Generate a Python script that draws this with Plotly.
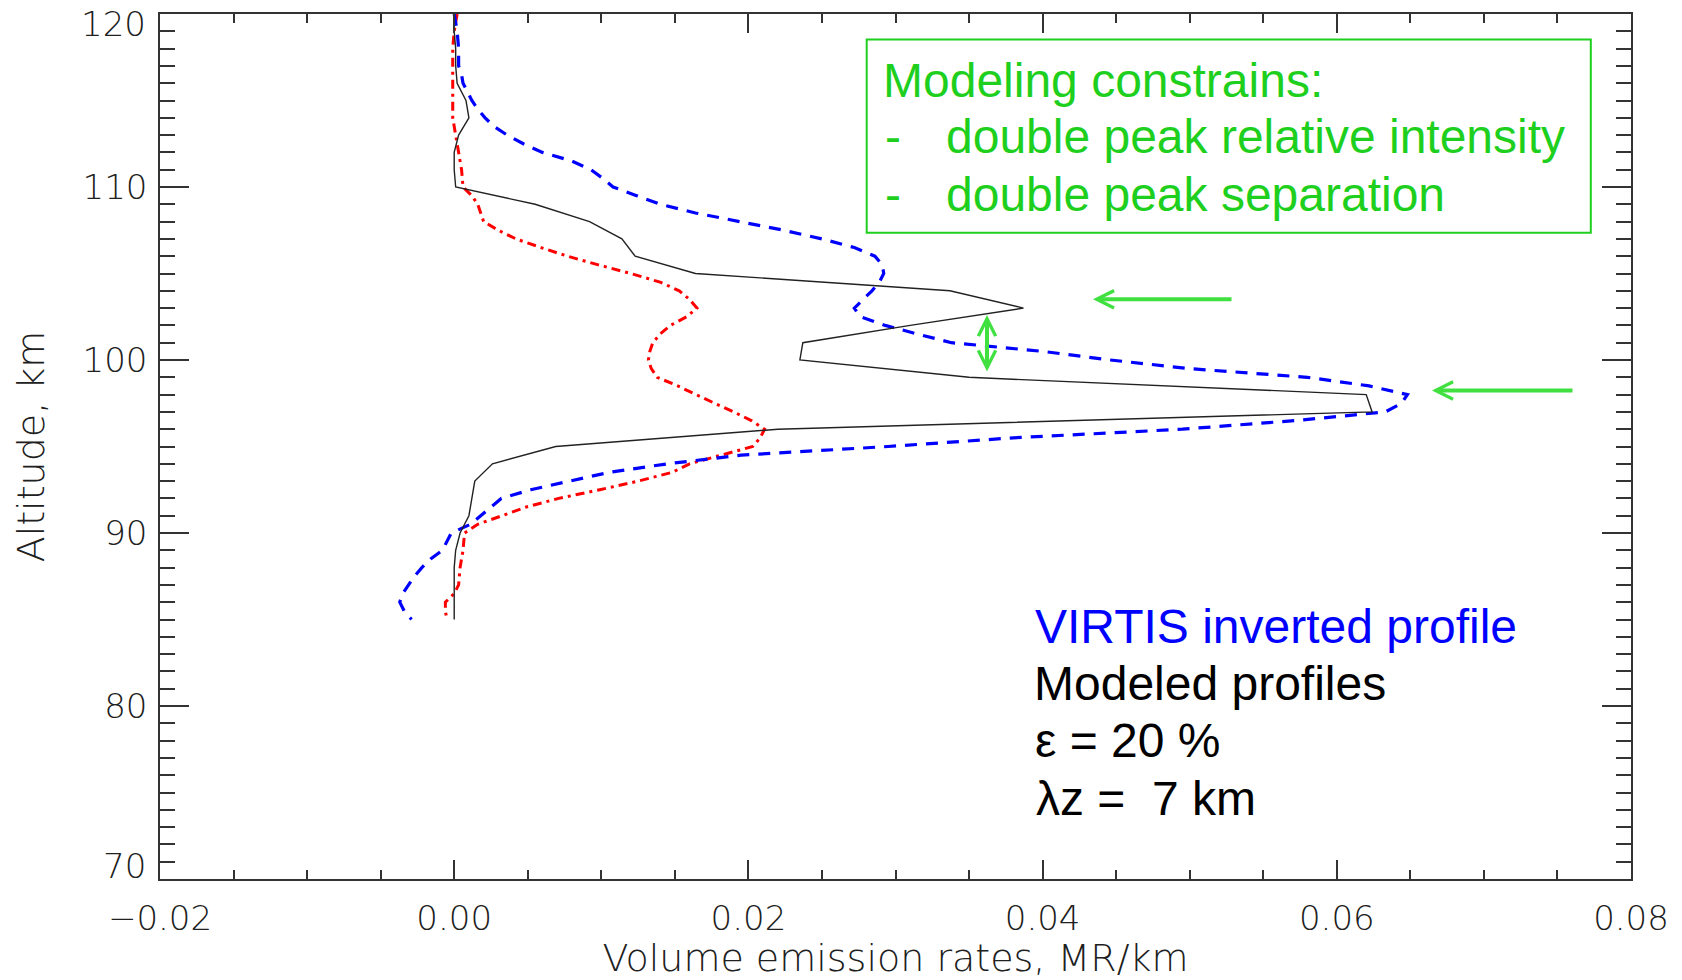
import plotly.graph_objects as go

# ---- Modeled O2 airglow profile (black) ----
model_alt = [120, 119, 118, 117, 116, 115, 114, 113, 112, 111, 110, 109, 108, 107,
             106, 105, 104, 103, 102, 101, 100, 99, 98, 97, 96, 95, 94, 93, 92, 91,
             90, 89, 88, 87, 86, 85]
model_ver = [0.0000, 0.0000, 0.0001, 0.0001, 0.0002, 0.0008, 0.0010, 0.0003, 0.0000,
             0.0000, 0.0001, 0.0055, 0.0092, 0.0114, 0.0123, 0.0164, 0.0337, 0.0387,
             0.0310, 0.0237, 0.0235, 0.0350, 0.0620, 0.0624, 0.0220, 0.0069, 0.0026,
             0.0014, 0.0012, 0.0010, 0.0004, 0.0001, 0.0000, 0.0000, 0.0000, 0.0000]

# ---- VIRTIS inverted profile (blue dashed) ----
virtis_alt = [120.0, 119.0, 118.0, 117.0, 116.5, 116.0, 115.5, 115.0, 114.5, 114.0,
              113.5, 113.0, 112.5, 112.0, 111.5, 111.0, 110.5, 110.0, 109.5, 109.0,
              108.5, 108.0, 107.5, 107.0, 106.5, 106.0, 105.5, 105.0, 104.5, 104.0,
              103.5, 103.0, 102.5, 102.0, 101.5, 101.0, 100.5, 100.0, 99.5, 99.0,
              98.5, 98.0, 97.5, 97.0, 96.5, 96.0, 95.5, 95.0, 94.5, 94.0,
              93.5, 93.0, 92.5, 92.0, 91.5, 91.0, 90.5, 90.0, 89.5, 89.0,
              88.5, 88.0, 87.5, 87.0, 86.5, 86.0, 85.5, 85.0]
virtis_ver = [0.0000, 0.0002, 0.0003, 0.0003, 0.0005, 0.0006, 0.0009, 0.0012, 0.0016, 0.0021,
              0.0027, 0.0036, 0.0047, 0.0060, 0.0080, 0.0093, 0.0101, 0.0108, 0.0124, 0.0140,
              0.0164, 0.0193, 0.0224, 0.0250, 0.0272, 0.0286, 0.0291, 0.0292, 0.0289, 0.0284,
              0.0278, 0.0272, 0.0276, 0.0293, 0.0315, 0.0338, 0.0400, 0.0446, 0.0500, 0.0580,
              0.0622, 0.0648, 0.0644, 0.0633, 0.0572, 0.0495, 0.0380, 0.0295, 0.0195, 0.0145,
              0.0105, 0.0078, 0.0052, 0.0032, 0.0025, 0.0018, 0.0011, -0.0002, -0.0005, -0.0008,
              -0.0016, -0.0022, -0.0027, -0.0031, -0.0035, -0.0037, -0.0034, -0.0029]

# ---- Second modeled profile (red dash-dot) ----
alt2 = [120.0, 119.0, 118.0, 117.0, 116.0, 115.0, 114.0, 113.0, 112.0, 111.0, 110.0,
        109.5, 109.0, 108.5, 108.0, 107.5, 107.0, 106.5, 106.0, 105.5, 105.0, 104.5,
        104.0, 103.5, 103.0, 102.5, 102.0, 101.5, 101.0, 100.5, 100.0, 99.5, 99.0,
        98.5, 98.0, 97.5, 97.0, 96.5, 96.0, 95.5, 95.0, 94.5, 94.0, 93.5, 93.0,
        92.5, 92.0, 91.5, 91.0, 90.5, 90.0, 89.0, 88.0, 87.0, 86.5, 86.0, 85.5, 85.0]
ver2 = [0.0002, 0.0000, -0.0001, -0.0001, -0.0001, -0.0001, -0.0001, 0.0001, 0.0003, 0.0005, 0.0006,
        0.0012, 0.0016, 0.0018, 0.0020, 0.0030, 0.0042, 0.0059, 0.0077, 0.0098, 0.0120, 0.0140,
        0.0153, 0.0160, 0.0165, 0.0158, 0.0147, 0.0140, 0.0135, 0.0133, 0.0132, 0.0134, 0.0138,
        0.0152, 0.0164, 0.0177, 0.0190, 0.0202, 0.0211, 0.0208, 0.0203, 0.0181, 0.0160, 0.0148, 0.0125,
        0.0099, 0.0071, 0.0049, 0.0033, 0.0016, 0.0007, 0.0006, 0.0004, 0.0003, 0.0000, -0.0006, -0.0006, -0.0005]

x_tickvals = [-0.02, 0.0, 0.02, 0.04, 0.06, 0.08]
x_ticktext = ["\u22120.02", "0.00", "0.02", "0.04", "0.06", "0.08"]
y_tickvals = [70, 80, 90, 100, 110, 120]
y_inner_labels = [80, 90, 100, 110]
y_edge_labels = [70, 120]

W, H = 1682, 980
L, R, T, B = 160, 51, 14, 101
X_RANGE = [-0.02, 0.08]
Y_RANGE = [70, 120]
KM_PER_PX = (Y_RANGE[1] - Y_RANGE[0]) / (H - T - B)


def px2x(px):
    return X_RANGE[0] + (px - L) / (W - L - R) * (X_RANGE[1] - X_RANGE[0])


def py2y(py):
    return Y_RANGE[1] - (py - T) * KM_PER_PX


GREEN_TXT = "#1ecf1e"
GREEN_ARR = "#3fe03f"
AXC = "#333333"
LABC = "#202020"

fig = go.Figure()
fig.add_trace(go.Scatter(x=ver2, y=alt2, mode="lines",
                         line=dict(color="#ff0000", width=3, dash="9px,5px,3px,5px")))
fig.add_trace(go.Scatter(x=virtis_ver, y=virtis_alt, mode="lines",
                         line=dict(color="#0000ff", width=3.2, dash="12px,9px")))
fig.add_trace(go.Scatter(x=model_ver, y=model_alt, mode="lines",
                         line=dict(color="#222222", width=1.4)))

tickfont = dict(family="DejaVu Sans", size=34, color=LABC, weight=200)
titlefont = dict(family="DejaVu Sans", size=38, color=LABC, weight=200)

fig.update_xaxes(range=X_RANGE, tickvals=x_tickvals, ticktext=x_ticktext,
                 ticks="inside", ticklen=19, tickwidth=1.5, tickcolor=AXC,
                 minor=dict(tick0=-0.02, dtick=0.005, ticks="inside", ticklen=9.5,
                            tickwidth=1.5, tickcolor=AXC),
                 showline=True, linecolor=AXC, linewidth=1.5, mirror="allticks",
                 showgrid=False, zeroline=False, tickfont=tickfont,
                 ticklabelstandoff=8,
                 title=dict(text="Volume emission rates, MR/km", font=titlefont, standoff=7))

# Altitude axis: ticks on both sides, labels for the inner decades
fig.update_yaxes(range=Y_RANGE, tickvals=y_tickvals,
                 ticktext=[str(v) if v in y_inner_labels else "" for v in y_tickvals],
                 ticks="inside", ticklen=29, tickwidth=1.5, tickcolor=AXC,
                 minor=dict(tick0=70, dtick=1, ticks="inside", ticklen=15.5,
                            tickwidth=1.5, tickcolor=AXC),
                 showline=True, linecolor=AXC, linewidth=1.5, mirror="allticks",
                 showgrid=False, zeroline=False, tickfont=tickfont,
                 ticklabelstandoff=4,
                 title=dict(text="Altitude, km", font=titlefont, standoff=26))

# Edge labels of the altitude axis, nudged inside the frame
edge_shift = {70: 12.6, 120: -10.0}
for v in y_edge_labels:
    fig.add_annotation(xref="paper", x=-13 / (W - L - R), y=v, yshift=edge_shift[v],
                       text=str(v), showarrow=False, xanchor="right", yanchor="middle",
                       borderpad=0, font=tickfont)

# Constraint box
fig.add_shape(type="rect", x0=px2x(866.7), x1=px2x(1590.8), y0=py2y(232.8), y1=py2y(39.5),
              line=dict(color=GREEN_TXT, width=2))

big = dict(family="Liberation Sans, Arial, sans-serif", size=48)


def label(text, px, baseline, color):
    fig.add_annotation(x=px2x(px), y=py2y(baseline - 16.6), text=text, showarrow=False,
                       xanchor="left", yanchor="middle", borderpad=0, borderwidth=0,
                       font=dict(big, color=color))


label("Modeling constrains:", 883, 96.6, GREEN_TXT)
label("-", 885, 153.5, GREEN_TXT)
label("double peak relative intensity", 946, 153.5, GREEN_TXT)
label("-", 885, 210.8, GREEN_TXT)
label("double peak separation", 946, 210.8, GREEN_TXT)

label("VIRTIS inverted profile", 1035, 642.7, "#0000ff")
label("Modeled profiles", 1034, 700.0, "#000000")
label("\u03b5 = 20 %", 1035, 757.3, "#000000")
label("\u03bbz = \u00a07 km", 1036, 815.0, "#000000")

# Arrows pointing at the two emission peaks and at their separation
arrow = dict(showarrow=True, text="", axref="x", ayref="y", arrowhead=5,
             arrowwidth=4, arrowsize=0.85, arrowcolor=GREEN_ARR)
fig.add_annotation(x=px2x(1093), y=py2y(299.3), ax=px2x(1233), ay=py2y(299.3), **arrow)
fig.add_annotation(x=px2x(1432), y=py2y(390.5), ax=px2x(1574), ay=py2y(390.5), **arrow)
fig.add_annotation(x=px2x(987), y=py2y(315), ax=px2x(987), ay=py2y(373),
                   arrowside="end+start", startarrowhead=5, startarrowsize=0.85, **arrow)

fig.update_layout(width=W, height=H, margin=dict(l=L, r=R, t=T, b=B, autoexpand=False),
                  plot_bgcolor="white", paper_bgcolor="white", showlegend=False)

fig.write_html("out.html")
